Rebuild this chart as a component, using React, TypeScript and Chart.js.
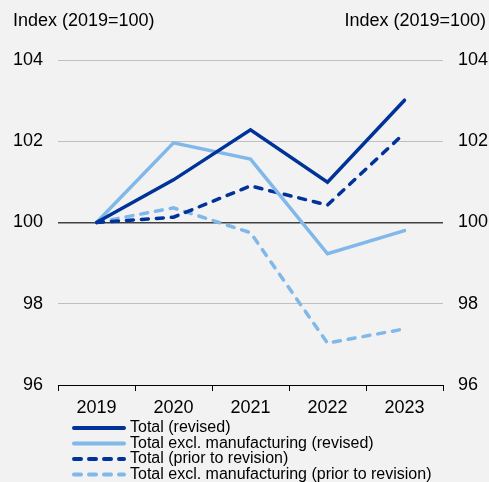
import React, { useEffect, useRef } from "react";
import { Chart, registerables } from "chart.js";

Chart.register(...registerables);

const years = ["2019", "2020", "2021", "2022", "2023"];
const totalRevised = [100, 101.05, 102.28, 100.99, 103.01];
const exclManufRevised = [100, 101.96, 101.56, 99.23, 99.8];
const totalPrior = [100, 100.13, 100.9, 100.43, 102.2];
const exclManufPrior = [100, 100.36, 99.75, 97.03, 97.38];
const seriesLabels = [
  "Total (revised)",
  "Total excl. manufacturing (revised)",
  "Total (prior to revision)",
  "Total excl. manufacturing (prior to revision)",
];
const axisTitle = "Index (2019=100)";

const DARK = "#003399";
const LIGHT = "#80b8ea";
const FONT = "'Liberation Sans', Arial, sans-serif";
const DASH = [7, 8];

const overlayPlugin = {
  id: "overlay",
  afterDraw(chart: any) {
    const ctx = chart.ctx;
    ctx.save();
    // axis titles
    ctx.fillStyle = "#000";
    ctx.font = `18px ${FONT}`;
    ctx.textBaseline = "middle";
    ctx.textAlign = "left";
    ctx.fillText(axisTitle, 13, 21);
    ctx.textAlign = "right";
    ctx.fillText(axisTitle, 486, 21);
    // legend
    const styles = [
      { c: DARK, d: [] as number[] },
      { c: LIGHT, d: [] as number[] },
      { c: DARK, d: DASH },
      { c: LIGHT, d: DASH },
    ];
    const rows = [428, 443.5, 459, 474.5];
    ctx.font = `16px ${FONT}`;
    ctx.textAlign = "left";
    styles.forEach((s, i) => {
      const y = rows[i];
      ctx.beginPath();
      ctx.strokeStyle = s.c;
      ctx.lineWidth = 4;
      ctx.lineCap = "round";
      ctx.setLineDash(s.d);
      ctx.moveTo(74, y);
      ctx.lineTo(124, y);
      ctx.stroke();
      ctx.setLineDash([]);
      ctx.fillStyle = "#000";
      ctx.fillText(seriesLabels[i], 130, y);
    });
    ctx.restore();
  },
};

export default function App() {
  const ref = useRef<HTMLCanvasElement>(null);
  useEffect(() => {
    document.body.style.margin = "0";
    const mk = (label: string, data: number[], color: string, dash: number[]) => ({
      label,
      data,
      borderColor: color,
      backgroundColor: color,
      borderWidth: 3.5,
      borderDash: dash,
      borderCapStyle: "round" as const,
      borderJoinStyle: "miter" as const,
      pointRadius: 0,
      tension: 0,
      fill: false,
      yAxisID: "y",
    });
    const chart = new Chart(ref.current!, {
      type: "line",
      data: {
        labels: years,
        datasets: [
          mk(seriesLabels[0], totalRevised, DARK, []),
          mk(seriesLabels[1], exclManufRevised, LIGHT, []),
          mk(seriesLabels[2], totalPrior, DARK, DASH),
          mk(seriesLabels[3], exclManufPrior, LIGHT, DASH),
        ],
      },
      options: {
        animation: false,
        responsive: false,
        layout: { padding: { top: 60, left: 0, right: 0, bottom: 0 } },
        plugins: { legend: { display: false }, tooltip: { enabled: false } },
        scales: {
          x: {
            offset: true,
            grid: {
              drawOnChartArea: false,
              drawTicks: true,
              tickLength: 6,
              color: "#000",
              offset: true,
            },
            border: { display: true, color: "#000", width: 1 },
            ticks: { color: "#000", font: { family: FONT, size: 18 }, padding: 6, maxRotation: 0 },
            afterFit: (s: any) => {
              s.height = 97;
            },
          },
          y: {
            position: "left",
            min: 96,
            max: 104,
            ticks: { stepSize: 2, color: "#000", font: { family: FONT, size: 18 }, padding: 15 },
            grid: {
              drawTicks: false,
              color: (c: any) =>
                c.tick && c.tick.value === 100 ? "#404040" : c.tick && c.tick.value === 96 ? "rgba(0,0,0,0)" : "#bfbfbf",
              lineWidth: (c: any) => (c.tick && c.tick.value === 100 ? 1.5 : 1),
            },
            border: { display: false },
            afterFit: (s: any) => {
              s.width = 58;
            },
          },
          y2: {
            position: "right",
            min: 96,
            max: 104,
            ticks: { stepSize: 2, color: "#000", font: { family: FONT, size: 18 }, padding: 15 },
            grid: { display: false, drawTicks: false },
            border: { display: false },
            afterFit: (s: any) => {
              s.width = 46;
            },
          },
        },
      },
      plugins: [overlayPlugin],
    });
    return () => chart.destroy();
  }, []);
  return (
    <div style={{ position: "absolute", left: 0, top: 0, width: 489, height: 482, background: "#f2f2f2" }}>
      <canvas ref={ref} width={489} height={482} style={{ display: "block" }} />
    </div>
  );
}
